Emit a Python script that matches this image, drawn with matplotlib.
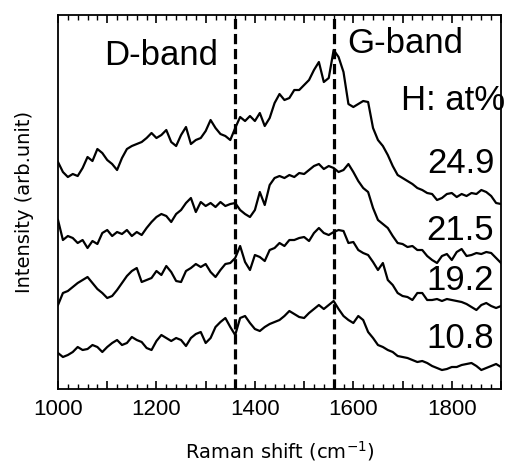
#!/usr/bin/env python
"""Raman spectra of a-C:H films at several hydrogen contents, stacked with D/G band markers."""

import matplotlib

matplotlib.use("Agg")
import matplotlib.pyplot as plt
import numpy as np
from matplotlib.ticker import FuncFormatter, MultipleLocator

# Raman shift grid (cm^-1), 10 cm^-1 steps
SHIFT = np.arange(1000, 1901, 10)

# Stacked intensities (arb. unit, offset included)
H_24_9 = [
    227, 217, 212, 215, 213, 221, 232, 228, 240, 236,
    229, 225, 219, 231, 240, 243, 245, 247, 251, 256,
    251, 254, 259, 247, 243, 254, 262, 245, 249, 251,
    258, 269, 261, 255, 253, 249, 261, 272, 268, 273,
    268, 276, 263, 271, 286, 295, 289, 291, 299, 299,
    304, 309, 319, 327, 307, 311, 339, 332, 317, 285,
    282, 285, 288, 287, 261, 249, 243, 234, 223, 214,
    211, 208, 205, 201, 199, 196, 195, 189, 191, 195,
    196, 192, 195, 193, 196, 195, 199, 197, 193, 186,
    185,
]
H_21_5 = [
    169, 149, 153, 151, 146, 149, 141, 148, 145, 156,
    159, 153, 157, 155, 159, 153, 157, 154, 161, 167,
    172, 175, 173, 167, 175, 179, 186, 191, 177, 187,
    183, 186, 182, 187, 183, 185, 186, 179, 175, 172,
    179, 197, 184, 204, 211, 213, 211, 214, 212, 216,
    215, 219, 223, 225, 220, 223, 221, 217, 219, 225,
    217, 208, 201, 197, 181, 169, 165, 161, 153, 146,
    145, 142, 143, 139, 139, 133, 129, 126, 133, 135,
    129, 137, 140, 133, 134, 136, 135, 137, 136, 131,
    126,
]
H_19_2 = [
    84, 96, 98, 102, 106, 109, 112, 106, 100, 96,
    91, 93, 99, 106, 113, 118, 121, 107, 109, 111,
    118, 114, 123, 117, 108, 107, 118, 121, 125, 122,
    125, 117, 112, 119, 125, 126, 131, 143, 127, 119,
    134, 132, 128, 139, 141, 146, 143, 149, 149, 151,
    152, 148, 156, 161, 156, 154, 157, 159, 158, 146,
    147, 139, 136, 134, 127, 119, 126, 109, 104, 96,
    93, 92, 89, 96, 96, 89, 89, 90, 88, 90,
    89, 88, 87, 85, 82, 79, 84, 86, 83, 81,
    83,
]
H_10_8 = [
    36, 32, 34, 37, 42, 39, 40, 44, 42, 37,
    42, 46, 49, 44, 46, 52, 49, 47, 41, 39,
    48, 54, 51, 48, 51, 49, 43, 51, 55, 57,
    46, 51, 62, 67, 71, 62, 54, 71, 73, 66,
    60, 58, 62, 65, 67, 69, 73, 78, 75, 72,
    71, 76, 80, 84, 80, 84, 88, 80, 73, 69,
    66, 73, 69, 57, 51, 44, 42, 39, 37, 33,
    32, 31, 29, 27, 28, 26, 23, 21, 19, 20,
    22, 22, 24, 25, 26, 23, 19, 21, 23, 25,
    22,
]

SPECTRA = [H_24_9, H_21_5, H_19_2, H_10_8]
H_LABELS = ["24.9", "21.5", "19.2", "10.8"]
LABEL_Y = [216, 149, 99, 41]

D_BAND = 1360
G_BAND = 1560

BIG = "Liberation Sans"
AXIS_FONT = "DejaVu Sans"

fig = plt.figure(figsize=(5.07, 4.62), dpi=100)
ax = fig.add_axes([0.1144, 0.158, 0.8738, 0.8095])

for y in SPECTRA:
    ax.plot(SHIFT, y, color="black", lw=1.6)

for pos in (D_BAND, G_BAND):
    ax.axvline(pos, color="black", lw=2.3, dashes=(3.2, 1.5))

ax.set_xlim(1000, 1900)
ax.set_ylim(0, 374)

ax.text(1209, 324, "D-band", fontsize=25, family=BIG, ha="center", va="baseline")
ax.text(1705, 336, "G-band", fontsize=25, family=BIG, ha="center", va="baseline")
ax.text(1697, 279, "H: at%", fontsize=25, family=BIG, ha="left", va="baseline")
for lab, yy in zip(H_LABELS, LABEL_Y):
    ax.text(1886, yy, lab, fontsize=25, family=BIG, ha="right", va="baseline")

ax.xaxis.set_major_locator(MultipleLocator(100))
ax.xaxis.set_minor_locator(MultipleLocator(20))
ax.xaxis.set_major_formatter(
    FuncFormatter(lambda v, _: f"{v:.0f}" if round(v) % 200 == 0 else "")
)
ax.tick_params(axis="x", which="both", direction="in", top=True, labelsize=16, pad=7)
ax.tick_params(axis="x", which="major", length=6, width=1.2)
ax.tick_params(axis="x", which="minor", length=3.5, width=1.0)
ax.set_yticks([])
for lbl in ax.get_xticklabels():
    lbl.set_family(BIG)

for s in ax.spines.values():
    s.set_linewidth(1.3)

ax.set_xlabel(r"Raman shift (cm$^{-1}$)", fontsize=14, family=AXIS_FONT, labelpad=14)
ax.set_ylabel("Intensity (arb.unit)", fontsize=14, family=AXIS_FONT, labelpad=17)

fig.savefig("out.png", dpi=100)
